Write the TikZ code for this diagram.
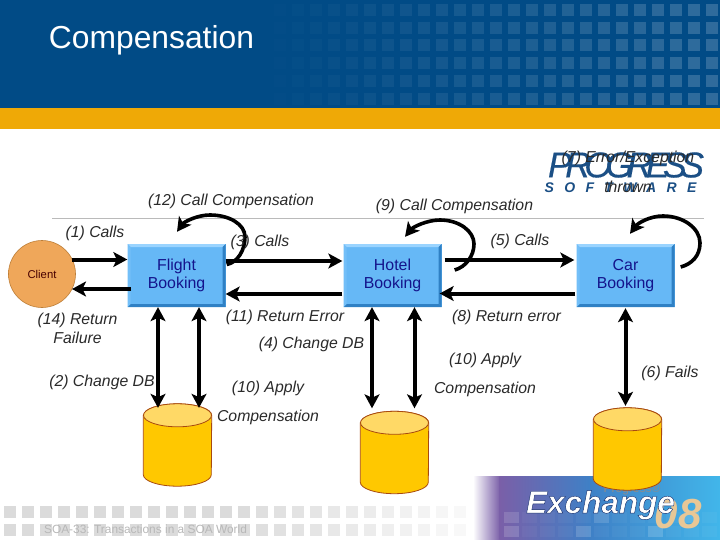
\documentclass[tikz,border=0pt]{standalone}
\usepackage{fontspec}
\usepackage{graphicx}
\setmainfont{Liberation Sans}
\usetikzlibrary{arrows.meta,calc}
\definecolor{hdr}{HTML}{014B86}
\definecolor{gold}{HTML}{EFA906}
\definecolor{boxfill}{HTML}{66B8F6}
\definecolor{boxlight}{HTML}{9AD4FF}
\definecolor{boxdark}{HTML}{2F80C4}
\definecolor{boxtext}{HTML}{14148C}
\definecolor{ballin}{HTML}{EFA75A}
\definecolor{ballout}{HTML}{A86C28}
\definecolor{dbbody}{HTML}{FFC800}
\definecolor{dbtop}{HTML}{FFD966}
\definecolor{dbline}{HTML}{A84A10}
\definecolor{logo}{HTML}{1B4F85}
\definecolor{note}{HTML}{2A2A2A}
\definecolor{bnrA}{HTML}{7A5FA8}
\definecolor{bnrB}{HTML}{3F80C6}
\definecolor{bnrC}{HTML}{41B6EA}
\definecolor{tan}{HTML}{E8C796}
\pgfdeclareradialshading{clientball}{\pgfpoint{0bp}{0bp}}{color(0bp)=(ballin); color(36bp)=(ballin); color(50bp)=(ballout)}
\newfontfamily\logofont[LetterSpace=-19,FakeBold=0.25]{Liberation Sans Italic}
\newfontfamily\softfont[LetterSpace=74]{Liberation Sans Bold Italic}
\newfontfamily\exchfont{Liberation Sans Bold Italic}
\newcommand{\dbdraw}[1]{%
  \path[fill=dbbody,draw=dbline,line width=.8pt] ([yshift=-11.5pt]#1.north west)
    -- ([yshift=11.5pt]#1.south west) arc[start angle=180,end angle=360,x radius=34pt,y radius=11.5pt]
    -- ([yshift=-11.5pt]#1.north east) arc[start angle=0,end angle=180,x radius=34pt,y radius=11.5pt] -- cycle;
  \path[fill=dbtop,draw=dbline,line width=.8pt] ([yshift=-11.5pt]#1.north)
    ellipse[x radius=34pt,y radius=11.5pt];}
\tikzset{
  svc/.style={minimum width=98pt,minimum height=63pt,inner sep=0pt,align=center,text=boxtext,
    font=\fontsize{15.9}{18}\selectfont,fill=boxfill,
    path picture={
      \fill[boxlight] (path picture bounding box.north west) -- (path picture bounding box.north east) -- ++(-3pt,-3pt) -- ([shift={(3pt,-3pt)}]path picture bounding box.north west) -- cycle;
      \fill[boxdark] (path picture bounding box.north east) -- (path picture bounding box.south east) -- ++(-3pt,3pt) -- ([shift={(-3pt,-3pt)}]path picture bounding box.north east) -- cycle;
      \fill[boxdark] (path picture bounding box.south west) -- (path picture bounding box.south east) -- ++(-3pt,3pt) -- ([shift={(3pt,3pt)}]path picture bounding box.south west) -- cycle;
      \fill[boxfill!75!boxlight] (path picture bounding box.north west) -- (path picture bounding box.south west) -- ++(3pt,3pt) -- ([shift={(3pt,-3pt)}]path picture bounding box.north west) -- cycle;
    }},
  dbase/.style={shape=rectangle,minimum width=68pt,minimum height=82pt,inner sep=0pt},
  lbl/.style={text=note,font=\fontsize{15.8}{19}\selectfont\itshape,inner sep=0pt,align=center},
  one/.style={line width=4pt,-{Stealth[length=14pt,width=15pt,inset=3.5pt]}},
  two/.style={line width=4pt,{Stealth[length=14pt,width=15pt,inset=3.5pt]}-{Stealth[length=14pt,width=15pt,inset=3.5pt]}},
  loopa/.style={line width=3.6pt,-{Stealth[length=14pt,width=15pt,inset=3.5pt]}},
}
\begin{document}
\begin{tikzpicture}[x=1pt,y=-1pt]
\useasboundingbox (0,0) rectangle (720,540);
\fill[white] (0,0) rectangle (720,540);
% header
\fill[hdr] (0,0) rectangle (720,108.5);
\foreach \k in {0,...,26}{
  \pgfmathsetmacro{\xx}{238+18*\k}
  \pgfmathsetmacro{\op}{max(0,min(18,(\xx-260)/24))}
  \foreach \yy in {4,22,39,57,75,93}
    \fill[white!\op!hdr] (\xx,\yy) rectangle ++(12,12);
}
\fill[gold] (0,108.5) rectangle (720,129.5);
\node[text=white,font=\fontsize{31.8}{36}\selectfont,inner sep=0pt] (title) at (151.5,40) {Compensation};
% footer squares
\foreach \k in {0,...,25}{
  \pgfmathsetmacro{\xx}{4+18*\k}
  \pgfmathsetmacro{\op}{\xx<230 ? 14 : (14-(\xx-230)/20)}
  \fill[black!\op!white] (\xx,506) rectangle ++(12,12);
  \fill[black!\op!white] (\xx,524) rectangle ++(12,12);
}
\node[text=black!28,font=\fontsize{11.9}{14}\selectfont,inner sep=0pt] (foot) at (145.5,529) {SOA-33: Transactions in a SOA World};
% banner
\shade[left color=white,right color=bnrA] (473,476) rectangle (500,540);
\shade[left color=bnrA,right color=bnrB] (499.5,476) rectangle (590,540);
\shade[left color=bnrB,right color=bnrC] (589.5,476) rectangle (720,540);
\foreach \k in {0,...,11}{
  \pgfmathsetmacro{\xx}{504+18*\k}
  \pgfmathsetmacro{\opa}{mod(\k*7,5)==0 ? 14 : 4}
  \pgfmathsetmacro{\opb}{mod(\k*3,4)==0 ? 16 : 4}
  \fill[white,opacity=\opa/100] (\xx,512) rectangle ++(15,11);
  \fill[white,opacity=\opb/100] (\xx,526) rectangle ++(15,11);
}
\node[text=tan,font=\fontsize{42}{44}\selectfont\bfseries\itshape,inner sep=0pt] (yr) at (678,514) {08};
\node[text=black!45,font=\fontsize{12}{14}\selectfont,inner sep=0pt] (brand) at (632,490) {Progress®};
\node[text=white,inner sep=0pt] (exch) at (600.5,505)
  {\exchfont\fontsize{31.5}{34}\selectfont\special{pdf:code 2 Tr 0.4 w 0.05 0.15 0.4 RG}Exchange\special{pdf:code 0 Tr}};
% rule
\draw[black!27,line width=.7pt] (52,218) -- (704,218);
% logo
\node[text=logo,inner sep=0pt,font=\logofont\fontsize{36}{38}\selectfont] (logoa) at (626,165) {PROGRESS};
\node[text=logo,inner sep=0pt,font=\softfont\fontsize{14}{16}\selectfont] (logob) at (620.5,188) {SOFTWARE};
% nodes
\node[circle,minimum size=67pt,inner sep=0pt,shading=clientball,draw=ballout!70!ballin,line width=.6pt,text=black!60!red!70!black,font=\fontsize{11.3}{13}\selectfont] (client) at (42,274) {Client};
\node[svc] (flight) at (176.5,275.5) {Flight\\Booking};
\node[svc] (hotel) at (392.5,275.5) {Hotel\\Booking};
\node[svc] (car) at (625.5,275.5) {Car\\Booking};
\node[dbase] (dbf) at (177.5,445) {};
\node[dbase] (dbh) at (394.5,452.5) {};
\node[dbase] (dbc) at (627.5,449) {};
\dbdraw{dbf}
\dbdraw{dbh}
\dbdraw{dbc}
% connectors
\draw[one] ([shift={(30pt,14.5pt)}]client.center) -- ([yshift=16pt]flight.west);
\draw[one] ([yshift=-13.5pt,xshift=4pt]flight.west) -- ([shift={(30pt,-15pt)}]client.center);
\draw[one] ([yshift=14.5pt]flight.east) -- ([yshift=14.5pt,xshift=-1pt]hotel.west);
\draw[one] ([yshift=-18.5pt,xshift=-1pt]hotel.west) -- ([yshift=-18.5pt]flight.east);
\draw[one] ([yshift=15.5pt,xshift=3pt]hotel.east) -- ([yshift=15.5pt,xshift=-2pt]car.west);
\draw[one] ([yshift=-18pt,xshift=-1pt]car.west) -- ([yshift=-18pt,xshift=-2pt]hotel.east);
\draw[two] ([xshift=-18.5pt]flight.south) -- ([xshift=-19.5pt,yshift=-4pt]dbf.north);
\draw[two] ([xshift=22.5pt]flight.south) -- ([xshift=21.5pt,yshift=-4pt]dbf.north);
\draw[two] ([xshift=-20.5pt]hotel.south) -- ([xshift=-22.5pt,yshift=3pt]dbh.north);
\draw[two] ([xshift=22pt]hotel.south) -- ([xshift=20pt,yshift=3pt]dbh.north);
\draw[two] ([yshift=-1pt]car.south) -- ([xshift=-2pt,yshift=2pt]dbc.north);
\draw[loopa] ([shift={(1pt,11pt)}]flight.east) .. controls +(11,-2) and (245,250) .. (245,237) .. controls (245,224) and (229,215) .. (210,215) .. controls (197,215) and (184,222) .. ([shift={(0.5pt,12pt)}]flight.north);
\draw[loopa] ([shift={(13pt,5.5pt)}]hotel.east) .. controls +(11,-3) and (474,256) .. (474,244) .. controls (474,231) and (459,220) .. (440,220) .. controls (427,220) and (413,227) .. ([shift={(12.5pt,7pt)}]hotel.north);
\draw[loopa] ([shift={(6pt,8.5pt)}]car.east) .. controls +(11,-3) and (700,256) .. (700,243) .. controls (700,228) and (683,216) .. (663,216) .. controls (650,216) and (638,223) .. ([shift={(4.5pt,10pt)}]car.north);
% labels
\node[lbl] (l12) at (231,201) {(12) Call Compensation};
\node[lbl] (l1) at (95,233) {(1) Calls};
\node[lbl] (l3) at (260,242) {(3) Calls};
\node[lbl] (l9) at (454.5,206) {(9) Call Compensation};
\node[lbl] (l5) at (520,241) {(5) Calls};
\node[lbl] (l7) at (628,172) {(7) Error/Exception\\[11pt]thrown};
\node[lbl] (l14) at (77.5,328.5) {(14) Return\\Failure};
\node[lbl] (l2) at (102,382) {(2) Change DB};
\node[lbl] (l11) at (285,317) {(11) Return Error};
\node[lbl] (l4) at (311.5,344) {(4) Change DB};
\node[lbl] (l8) at (506.5,317) {(8) Return error};
\node[lbl] (l6) at (670,373) {(6) Fails};
\node[lbl] (l10a) at (268,402.5) {(10) Apply\\[10pt]Compensation};
\node[lbl] (l10b) at (485,375) {(10) Apply\\[10pt]Compensation};
\end{tikzpicture}
\end{document}
